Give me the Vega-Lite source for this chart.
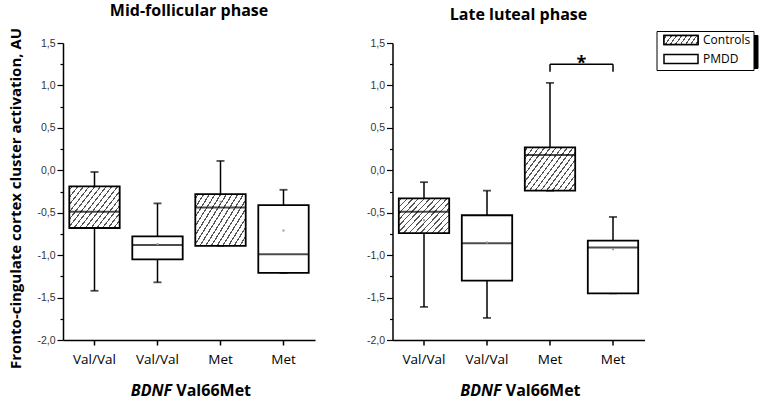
{
  "$schema": "https://vega.github.io/schema/vega-lite/v6.json",
  "padding": {"left": 8, "top": 3, "right": 4, "bottom": 2},
  "datasets": {
    "boxes": [
      {"phase": "MF", "slot": "1", "genotype": "Val/Val", "group": "Controls", "min": -1.42, "q1": -0.68, "med": -0.49, "q3": -0.19, "max": -0.02, "mean": null},
      {"phase": "MF", "slot": "2", "genotype": "Val/Val", "group": "PMDD", "min": -1.32, "q1": -1.05, "med": -0.88, "q3": -0.78, "max": -0.39, "mean": -0.87},
      {"phase": "MF", "slot": "3", "genotype": "Met", "group": "Controls", "min": -0.89, "q1": -0.89, "med": -0.44, "q3": -0.28, "max": 0.11, "mean": -0.37},
      {"phase": "MF", "slot": "4", "genotype": "Met", "group": "PMDD", "min": -1.21, "q1": -1.21, "med": -0.99, "q3": -0.41, "max": -0.23, "mean": -0.71},
      {"phase": "LL", "slot": "1", "genotype": "Val/Val", "group": "Controls", "min": -1.61, "q1": -0.74, "med": -0.49, "q3": -0.33, "max": -0.14, "mean": -0.59},
      {"phase": "LL", "slot": "2", "genotype": "Val/Val", "group": "PMDD", "min": -1.74, "q1": -1.30, "med": -0.86, "q3": -0.53, "max": -0.24, "mean": -0.85},
      {"phase": "LL", "slot": "3", "genotype": "Met", "group": "Controls", "min": -0.24, "q1": -0.24, "med": 0.18, "q3": 0.27, "max": 1.03, "mean": null},
      {"phase": "LL", "slot": "4", "genotype": "Met", "group": "PMDD", "min": -1.45, "q1": -1.45, "med": -0.91, "q3": -0.83, "max": -0.55, "mean": -0.93}
    ],
    "bracket": [
      {"phase": "LL", "from": "3", "to": "4", "y": 1.25, "yb": 1.16, "label": "*"}
    ]
  },
  "config": {
    "view": {"stroke": null},
    "axis": {"grid": false},
    "font": "Open Sans",
    "title": {"font": "Open Sans", "fontSize": 16, "fontWeight": "bold", "color": "black", "anchor": "middle", "frame": "group", "offset": 8}
  },
  "resolve": {"scale": {"stroke": "independent", "fill": "independent", "color": "independent"}, "legend": {"stroke": "independent", "fill": "independent", "color": "independent"}},
  "spacing": 50.5,
  "hconcat": [
    {
      "width": 252,
      "height": 297,
      "title": {"text": "Mid-follicular phase"},
      "data": {"name": "boxes"},
      "transform": [{"filter": "datum.phase === 'MF'"}],
      "resolve": {"axis": {"x": "independent", "y": "independent"}},
      "encoding": {
        "x": {"field": "slot", "type": "nominal", "scale": {"domain": ["1", "2", "3", "4"], "paddingInner": 0, "paddingOuter": 0}, "axis": null}
      },
      "layer": [
        {
          "mark": {"type": "rule", "color": "black", "strokeWidth": 1.5},
          "encoding": {
            "x": {"field": "slot", "type": "nominal", "scale": {"domain": ["1", "2", "3", "4"], "paddingInner": 0, "paddingOuter": 0},
              "axis": {"orient": "bottom", "title": "Val66Met", "titleX": 112.8, "titleY": 55, "titleAlign": "left", "titleBaseline": "alphabetic", "titleFont": "Open Sans", "titleFontSize": 16, "titleFontWeight": "bold", "titleColor": "black",
                "labelExpr": "(datum.value == '1' || datum.value == '2') ? 'Val/Val' : 'Met'", "labelAngle": 0, "labelFont": "Open Sans", "labelFontSize": 13.5, "labelColor": "black", "labelPadding": 7,
                "tickSize": 5, "tickWidth": 1.5, "tickColor": "black", "domainColor": "black", "domainWidth": 1.5}},
            "y": {"field": "min", "type": "quantitative", "scale": {"domain": [-2, 1.5], "nice": false, "zero": false},
              "axis": {"orient": "left", "title": "Fronto-cingulate cortex cluster activation, AU", "titleFont": "Open Sans", "titleFontSize": 15, "titleFontWeight": "bold", "titleColor": "black", "titleX": -48, "titleY": 155, "titleAlign": "center", "titleBaseline": "middle", "titleAngle": -90,
                "values": [-2, -1.75, -1.5, -1.25, -1, -0.75, -0.5, -0.25, 0, 0.25, 0.5, 0.75, 1, 1.25, 1.5],
                "labelExpr": "abs(datum.value*2 - round(datum.value*2)) < 0.01 ? replace(replace(format(datum.value, '.1f'), '.', ','), '\u2212', '-') : ''",
                "labelFont": "Liberation Sans", "labelFontSize": 10.5, "labelColor": "#333333", "labelPadding": 2, "labelOverlap": false,
                "tickSize": {"condition": {"test": "abs(datum.value*2 - round(datum.value*2)) < 0.01", "value": 6}, "value": 3},
                "tickWidth": 1.2, "tickColor": "black", "domainColor": "black", "domainWidth": 1.5}},
            "y2": {"field": "max"}
          }
        },
        {
          "mark": {"type": "tick", "color": "black", "size": 8, "thickness": 1.8},
          "encoding": {"y": {"field": "max", "type": "quantitative", "scale": {"domain": [-2, 1.5], "nice": false, "zero": false}, "axis": null}}
        },
        {
          "mark": {"type": "tick", "color": "black", "size": 8, "thickness": 1.8},
          "encoding": {"y": {"field": "min", "type": "quantitative", "scale": {"domain": [-2, 1.5], "nice": false, "zero": false}, "axis": null}}
        },
        {
          "transform": [{"filter": "datum.group === 'Controls'"}],
          "mark": {"type": "bar", "width": {"band": 0.8}, "stroke": "black", "strokeWidth": 1.8,
            "fill": {"gradient": "linear", "x1": 0, "y1": 0, "x2": 1.2, "y2": 0.77, "stops": [
              {"offset": 0, "color": "#fff"},
              {"offset": 0.0253, "color": "#fff"}, {"offset": 0.0253, "color": "#555"}, {"offset": 0.0413, "color": "#555"}, {"offset": 0.0413, "color": "#fff"},
              {"offset": 0.092, "color": "#fff"}, {"offset": 0.092, "color": "#555"}, {"offset": 0.108, "color": "#555"}, {"offset": 0.108, "color": "#fff"},
              {"offset": 0.1587, "color": "#fff"}, {"offset": 0.1587, "color": "#555"}, {"offset": 0.1747, "color": "#555"}, {"offset": 0.1747, "color": "#fff"},
              {"offset": 0.2253, "color": "#fff"}, {"offset": 0.2253, "color": "#555"}, {"offset": 0.2413, "color": "#555"}, {"offset": 0.2413, "color": "#fff"},
              {"offset": 0.292, "color": "#fff"}, {"offset": 0.292, "color": "#555"}, {"offset": 0.308, "color": "#555"}, {"offset": 0.308, "color": "#fff"},
              {"offset": 0.3587, "color": "#fff"}, {"offset": 0.3587, "color": "#555"}, {"offset": 0.3747, "color": "#555"}, {"offset": 0.3747, "color": "#fff"},
              {"offset": 0.4253, "color": "#fff"}, {"offset": 0.4253, "color": "#555"}, {"offset": 0.4413, "color": "#555"}, {"offset": 0.4413, "color": "#fff"},
              {"offset": 0.492, "color": "#fff"}, {"offset": 0.492, "color": "#555"}, {"offset": 0.508, "color": "#555"}, {"offset": 0.508, "color": "#fff"},
              {"offset": 0.5587, "color": "#fff"}, {"offset": 0.5587, "color": "#555"}, {"offset": 0.5747, "color": "#555"}, {"offset": 0.5747, "color": "#fff"},
              {"offset": 0.6253, "color": "#fff"}, {"offset": 0.6253, "color": "#555"}, {"offset": 0.6413, "color": "#555"}, {"offset": 0.6413, "color": "#fff"},
              {"offset": 0.692, "color": "#fff"}, {"offset": 0.692, "color": "#555"}, {"offset": 0.708, "color": "#555"}, {"offset": 0.708, "color": "#fff"},
              {"offset": 0.7587, "color": "#fff"}, {"offset": 0.7587, "color": "#555"}, {"offset": 0.7747, "color": "#555"}, {"offset": 0.7747, "color": "#fff"},
              {"offset": 0.8253, "color": "#fff"}, {"offset": 0.8253, "color": "#555"}, {"offset": 0.8413, "color": "#555"}, {"offset": 0.8413, "color": "#fff"},
              {"offset": 0.892, "color": "#fff"}, {"offset": 0.892, "color": "#555"}, {"offset": 0.908, "color": "#555"}, {"offset": 0.908, "color": "#fff"},
              {"offset": 0.9587, "color": "#fff"}, {"offset": 0.9587, "color": "#555"}, {"offset": 0.9747, "color": "#555"}, {"offset": 0.9747, "color": "#fff"},
              {"offset": 1, "color": "#fff"}
            ]}},
          "encoding": {
            "x": {"field": "slot", "type": "nominal", "scale": {"domain": ["1", "2", "3", "4"], "paddingInner": 0, "paddingOuter": 0},
              "axis": {"orient": "bottom", "title": "BDNF", "titleX": 108.6, "titleY": 55, "titleAlign": "right", "titleBaseline": "alphabetic", "titleFont": "Open Sans", "titleFontSize": 16, "titleFontWeight": "bold", "titleFontStyle": "italic", "titleColor": "black",
                "labels": false, "ticks": false, "domain": false}},
            "y": {"field": "q1", "type": "quantitative", "scale": {"domain": [-2, 1.5], "nice": false, "zero": false}, "axis": null},
            "y2": {"field": "q3"}
          }
        },
        {
          "transform": [{"filter": "datum.group === 'PMDD'"}],
          "mark": {"type": "bar", "width": {"band": 0.8}, "stroke": "black", "strokeWidth": 1.8, "fill": "white"},
          "encoding": {
            "y": {"field": "q1", "type": "quantitative", "scale": {"domain": [-2, 1.5], "nice": false, "zero": false}, "axis": null},
            "y2": {"field": "q3"}
          }
        },
        {
          "mark": {"type": "tick", "color": "black", "size": 50, "thickness": 2},
          "encoding": {"y": {"field": "med", "type": "quantitative", "scale": {"domain": [-2, 1.5], "nice": false, "zero": false}, "axis": null}}
        },
        {
          "mark": {"type": "square", "size": 4, "color": "#999999", "opacity": 1},
          "encoding": {"y": {"field": "mean", "type": "quantitative", "scale": {"domain": [-2, 1.5], "nice": false, "zero": false}, "axis": null}}
        }
      ]
    },
    {
      "width": 252,
      "height": 297,
      "title": {"text": "Late luteal phase"},
      "data": {"name": "boxes"},
      "transform": [{"filter": "datum.phase === 'LL'"}],
      "resolve": {"axis": {"x": "independent", "y": "independent"}},
      "encoding": {
        "x": {"field": "slot", "type": "nominal", "scale": {"domain": ["1", "2", "3", "4"], "paddingInner": 0, "paddingOuter": 0}, "axis": null}
      },
      "layer": [
        {
          "mark": {"type": "rule", "color": "black", "strokeWidth": 1.5},
          "encoding": {
            "x": {"field": "slot", "type": "nominal", "scale": {"domain": ["1", "2", "3", "4"], "paddingInner": 0, "paddingOuter": 0},
              "axis": {"orient": "bottom", "title": "Val66Met", "titleX": 112.8, "titleY": 55, "titleAlign": "left", "titleBaseline": "alphabetic", "titleFont": "Open Sans", "titleFontSize": 16, "titleFontWeight": "bold", "titleColor": "black",
                "labelExpr": "(datum.value == '1' || datum.value == '2') ? 'Val/Val' : 'Met'", "labelAngle": 0, "labelFont": "Open Sans", "labelFontSize": 13.5, "labelColor": "black", "labelPadding": 7,
                "tickSize": 5, "tickWidth": 1.5, "tickColor": "black", "domainColor": "black", "domainWidth": 1.5}},
            "y": {"field": "min", "type": "quantitative", "scale": {"domain": [-2, 1.5], "nice": false, "zero": false},
              "axis": {"orient": "left", "title": null,
                "values": [-2, -1.75, -1.5, -1.25, -1, -0.75, -0.5, -0.25, 0, 0.25, 0.5, 0.75, 1, 1.25, 1.5],
                "labelExpr": "abs(datum.value*2 - round(datum.value*2)) < 0.01 ? replace(replace(format(datum.value, '.1f'), '.', ','), '\u2212', '-') : ''",
                "labelFont": "Liberation Sans", "labelFontSize": 10.5, "labelColor": "#333333", "labelPadding": 2, "labelOverlap": false,
                "tickSize": {"condition": {"test": "abs(datum.value*2 - round(datum.value*2)) < 0.01", "value": 6}, "value": 3},
                "tickWidth": 1.2, "tickColor": "black", "domainColor": "black", "domainWidth": 1.5}},
            "y2": {"field": "max"}
          }
        },
        {
          "mark": {"type": "tick", "color": "black", "size": 8, "thickness": 1.8},
          "encoding": {"y": {"field": "max", "type": "quantitative", "scale": {"domain": [-2, 1.5], "nice": false, "zero": false}, "axis": null}}
        },
        {
          "mark": {"type": "tick", "color": "black", "size": 8, "thickness": 1.8},
          "encoding": {"y": {"field": "min", "type": "quantitative", "scale": {"domain": [-2, 1.5], "nice": false, "zero": false}, "axis": null}}
        },
        {
          "transform": [{"filter": "datum.group === 'Controls'"}],
          "mark": {"type": "bar", "width": {"band": 0.8}, "stroke": "black", "strokeWidth": 1.8,
            "fill": {"gradient": "linear", "x1": 0, "y1": 0, "x2": 1.2, "y2": 0.77, "stops": [
              {"offset": 0, "color": "#fff"},
              {"offset": 0.0253, "color": "#fff"}, {"offset": 0.0253, "color": "#555"}, {"offset": 0.0413, "color": "#555"}, {"offset": 0.0413, "color": "#fff"},
              {"offset": 0.092, "color": "#fff"}, {"offset": 0.092, "color": "#555"}, {"offset": 0.108, "color": "#555"}, {"offset": 0.108, "color": "#fff"},
              {"offset": 0.1587, "color": "#fff"}, {"offset": 0.1587, "color": "#555"}, {"offset": 0.1747, "color": "#555"}, {"offset": 0.1747, "color": "#fff"},
              {"offset": 0.2253, "color": "#fff"}, {"offset": 0.2253, "color": "#555"}, {"offset": 0.2413, "color": "#555"}, {"offset": 0.2413, "color": "#fff"},
              {"offset": 0.292, "color": "#fff"}, {"offset": 0.292, "color": "#555"}, {"offset": 0.308, "color": "#555"}, {"offset": 0.308, "color": "#fff"},
              {"offset": 0.3587, "color": "#fff"}, {"offset": 0.3587, "color": "#555"}, {"offset": 0.3747, "color": "#555"}, {"offset": 0.3747, "color": "#fff"},
              {"offset": 0.4253, "color": "#fff"}, {"offset": 0.4253, "color": "#555"}, {"offset": 0.4413, "color": "#555"}, {"offset": 0.4413, "color": "#fff"},
              {"offset": 0.492, "color": "#fff"}, {"offset": 0.492, "color": "#555"}, {"offset": 0.508, "color": "#555"}, {"offset": 0.508, "color": "#fff"},
              {"offset": 0.5587, "color": "#fff"}, {"offset": 0.5587, "color": "#555"}, {"offset": 0.5747, "color": "#555"}, {"offset": 0.5747, "color": "#fff"},
              {"offset": 0.6253, "color": "#fff"}, {"offset": 0.6253, "color": "#555"}, {"offset": 0.6413, "color": "#555"}, {"offset": 0.6413, "color": "#fff"},
              {"offset": 0.692, "color": "#fff"}, {"offset": 0.692, "color": "#555"}, {"offset": 0.708, "color": "#555"}, {"offset": 0.708, "color": "#fff"},
              {"offset": 0.7587, "color": "#fff"}, {"offset": 0.7587, "color": "#555"}, {"offset": 0.7747, "color": "#555"}, {"offset": 0.7747, "color": "#fff"},
              {"offset": 0.8253, "color": "#fff"}, {"offset": 0.8253, "color": "#555"}, {"offset": 0.8413, "color": "#555"}, {"offset": 0.8413, "color": "#fff"},
              {"offset": 0.892, "color": "#fff"}, {"offset": 0.892, "color": "#555"}, {"offset": 0.908, "color": "#555"}, {"offset": 0.908, "color": "#fff"},
              {"offset": 0.9587, "color": "#fff"}, {"offset": 0.9587, "color": "#555"}, {"offset": 0.9747, "color": "#555"}, {"offset": 0.9747, "color": "#fff"},
              {"offset": 1, "color": "#fff"}
            ]}},
          "encoding": {
            "x": {"field": "slot", "type": "nominal", "scale": {"domain": ["1", "2", "3", "4"], "paddingInner": 0, "paddingOuter": 0},
              "axis": {"orient": "bottom", "title": "BDNF", "titleX": 108.6, "titleY": 55, "titleAlign": "right", "titleBaseline": "alphabetic", "titleFont": "Open Sans", "titleFontSize": 16, "titleFontWeight": "bold", "titleFontStyle": "italic", "titleColor": "black",
                "labels": false, "ticks": false, "domain": false}},
            "y": {"field": "q1", "type": "quantitative", "scale": {"domain": [-2, 1.5], "nice": false, "zero": false}, "axis": null},
            "y2": {"field": "q3"}
          }
        },
        {
          "transform": [{"filter": "datum.group === 'PMDD'"}],
          "mark": {"type": "bar", "width": {"band": 0.8}, "stroke": "black", "strokeWidth": 1.8, "fill": "white"},
          "encoding": {
            "y": {"field": "q1", "type": "quantitative", "scale": {"domain": [-2, 1.5], "nice": false, "zero": false}, "axis": null},
            "y2": {"field": "q3"}
          }
        },
        {
          "transform": [{"filter": "false"}],
          "mark": {"type": "bar", "width": {"band": 0.8}, "stroke": "black", "strokeWidth": 1.5},
          "encoding": {
            "y": {"field": "q1", "type": "quantitative", "scale": {"domain": [-2, 1.5], "nice": false, "zero": false}, "axis": null},
            "y2": {"field": "q3"},
            "color": {"field": "group", "type": "nominal", "scale": {"domain": ["c", "p"], "range": ["black", "black"]},
              "legend": {"title": null, "orient": "none", "legendX": 268, "legendY": -8, "direction": "vertical",
                "labelExpr": "''",
                "symbolType": "M-3.778,-1H3.778V1H-3.778Z", "symbolSize": 81, "symbolStrokeWidth": 1.5, "symbolOpacity": 0, "symbolOffset": 15.5,
                "labelFont": "Open Sans", "labelFontSize": 12, "labelColor": "black", "labelOffset": 63.5,
                "strokeColor": "black", "fillColor": "black", "padding": 3, "rowPadding": 3}}
          }
        },
        {
          "transform": [{"filter": "false"}],
          "mark": {"type": "bar", "width": {"band": 0.8}, "stroke": "black", "strokeWidth": 1.5},
          "encoding": {
            "y": {"field": "q1", "type": "quantitative", "scale": {"domain": [-2, 1.5], "nice": false, "zero": false}, "axis": null},
            "y2": {"field": "q3"},
            "fill": {"field": "group", "type": "nominal", "scale": {"domain": ["Controls", "PMDD"], "range": ["white", "white"]},
              "legend": {"title": null, "orient": "none", "legendX": 264, "legendY": -12, "direction": "vertical",
                "symbolType": "M-3.778,-1H3.778V1H-3.778Z", "symbolSize": 81, "symbolStrokeWidth": 1.5, "symbolStrokeColor": "black", "symbolOffset": 15.5,
                "labelFont": "Open Sans", "labelFontSize": 12, "labelColor": "black", "labelOffset": 16,
                "strokeColor": "black", "fillColor": "white", "padding": 3, "rowPadding": 3}}
          }
        },
        {
          "transform": [{"filter": "false"}],
          "mark": {"type": "bar", "width": {"band": 0.8}, "strokeWidth": 1.5,
            "fill": {"gradient": "linear", "x1": 0, "y1": 0, "x2": 1.15, "y2": 0.213, "stops": [
              {"offset": 0, "color": "#fff"},
              {"offset": 0.0465, "color": "#fff"}, {"offset": 0.0465, "color": "#555"}, {"offset": 0.0785, "color": "#555"}, {"offset": 0.0785, "color": "#fff"},
              {"offset": 0.1715, "color": "#fff"}, {"offset": 0.1715, "color": "#555"}, {"offset": 0.2035, "color": "#555"}, {"offset": 0.2035, "color": "#fff"},
              {"offset": 0.2965, "color": "#fff"}, {"offset": 0.2965, "color": "#555"}, {"offset": 0.3285, "color": "#555"}, {"offset": 0.3285, "color": "#fff"},
              {"offset": 0.4215, "color": "#fff"}, {"offset": 0.4215, "color": "#555"}, {"offset": 0.4535, "color": "#555"}, {"offset": 0.4535, "color": "#fff"},
              {"offset": 0.5465, "color": "#fff"}, {"offset": 0.5465, "color": "#555"}, {"offset": 0.5785, "color": "#555"}, {"offset": 0.5785, "color": "#fff"},
              {"offset": 0.6715, "color": "#fff"}, {"offset": 0.6715, "color": "#555"}, {"offset": 0.7035, "color": "#555"}, {"offset": 0.7035, "color": "#fff"},
              {"offset": 0.7965, "color": "#fff"}, {"offset": 0.7965, "color": "#555"}, {"offset": 0.8285, "color": "#555"}, {"offset": 0.8285, "color": "#fff"},
              {"offset": 0.9215, "color": "#fff"}, {"offset": 0.9215, "color": "#555"}, {"offset": 0.9535, "color": "#555"}, {"offset": 0.9535, "color": "#fff"},
              {"offset": 1, "color": "#fff"}
            ]}},
          "encoding": {
            "y": {"field": "q1", "type": "quantitative", "scale": {"domain": [-2, 1.5], "nice": false, "zero": false}, "axis": null},
            "y2": {"field": "q3"},
            "stroke": {"field": "group", "type": "nominal", "scale": {"domain": ["Controls"], "range": ["black"]},
              "legend": {"title": null, "orient": "none", "legendX": 264, "legendY": -12, "direction": "vertical",
                "labelExpr": "''",
                "symbolType": "M-3.778,-1H3.778V1H-3.778Z", "symbolSize": 81, "symbolStrokeWidth": 1.5, "symbolOffset": 15.5,
                "labelFont": "Open Sans", "labelFontSize": 12, "labelColor": "black", "labelOffset": 16,
                "strokeColor": null, "fillColor": null, "padding": 3, "rowPadding": 3}}
          }
        },
        {
          "mark": {"type": "tick", "color": "black", "size": 50, "thickness": 2},
          "encoding": {"y": {"field": "med", "type": "quantitative", "scale": {"domain": [-2, 1.5], "nice": false, "zero": false}, "axis": null}}
        },
        {
          "mark": {"type": "square", "size": 4, "color": "#999999", "opacity": 1},
          "encoding": {"y": {"field": "mean", "type": "quantitative", "scale": {"domain": [-2, 1.5], "nice": false, "zero": false}, "axis": null}}
        },
        {
          "data": {"name": "bracket"},
          "mark": {"type": "rule", "color": "black", "strokeWidth": 1.5},
          "encoding": {
            "x": {"field": "from", "type": "nominal", "axis": null},
            "x2": {"field": "to"},
            "y": {"field": "y", "type": "quantitative", "scale": {"domain": [-2, 1.5], "nice": false, "zero": false}, "axis": null}
          }
        },
        {
          "data": {"name": "bracket"},
          "mark": {"type": "rule", "color": "black", "strokeWidth": 1.5},
          "encoding": {
            "x": {"field": "from", "type": "nominal", "axis": null},
            "y": {"field": "yb", "type": "quantitative", "scale": {"domain": [-2, 1.5], "nice": false, "zero": false}, "axis": null},
            "y2": {"field": "y"}
          }
        },
        {
          "data": {"name": "bracket"},
          "mark": {"type": "rule", "color": "black", "strokeWidth": 1.5},
          "encoding": {
            "x": {"field": "to", "type": "nominal", "axis": null},
            "y": {"field": "yb", "type": "quantitative", "scale": {"domain": [-2, 1.5], "nice": false, "zero": false}, "axis": null},
            "y2": {"field": "y"}
          }
        },
        {
          "data": {"name": "bracket"},
          "mark": {"type": "text", "font": "Open Sans", "fontSize": 18, "fontWeight": "bold", "color": "black", "baseline": "alphabetic", "align": "center", "dy": 5},
          "encoding": {
            "x": {"field": "from", "type": "nominal", "bandPosition": 1, "axis": null},
            "y": {"field": "y", "type": "quantitative", "scale": {"domain": [-2, 1.5], "nice": false, "zero": false}, "axis": null},
            "text": {"field": "label"}
          }
        }
      ]
    }
  ]
}
